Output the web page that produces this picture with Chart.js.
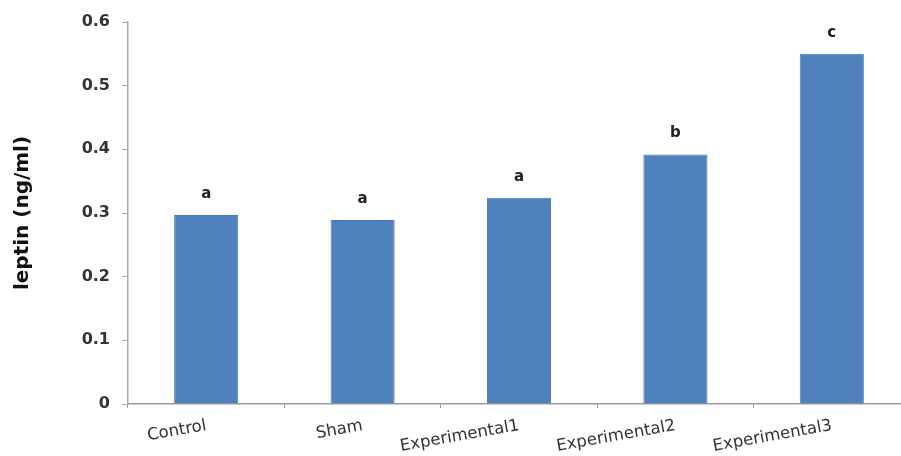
<!DOCTYPE html>
<html lang="en">
<head>
  <meta charset="UTF-8">
  <title>Leptin levels</title>
  <script src="https://cdn.jsdelivr.net/npm/chart.js"></script>
  <style>
    html, body {
      margin: 0;
      padding: 0;
      background: #fff;
      overflow: hidden;
    }
    #wrap {
      width: 920px;
      height: 456px;
    }
  </style>
</head>
<body>
  <div id="wrap">
    <canvas id="leptinChart" width="920" height="456"></canvas>
  </div>

  <script>
    const groups = ['Control', 'Sham', 'Experimental1', 'Experimental2', 'Experimental3'];
    const leptin = [0.297, 0.289, 0.324, 0.392, 0.550];
    const letters = ['a', 'a', 'a', 'b', 'c'];
    const yTicks = [0, 0.1, 0.2, 0.3, 0.4, 0.5, 0.6];

    // draws the significance letters above each bar
    const letterPlugin = {
      id: 'letters',
      afterDatasetsDraw(chart) {
        const ctx = chart.ctx;
        const meta = chart.getDatasetMeta(0);
        ctx.save();
        ctx.font = 'bold 15px "DejaVu Sans"';
        ctx.fillStyle = '#222';
        ctx.textAlign = 'center';
        ctx.textBaseline = 'middle';
        meta.data.forEach((bar, i) => {
          ctx.fillText(letters[i], bar.x, bar.y - 21);
        });
        ctx.restore();
      }
    };

    const ctx = document.getElementById('leptinChart').getContext('2d');
    new Chart(ctx, {
      type: 'bar',
      data: {
        labels: groups,
        datasets: [{
          data: leptin,
          backgroundColor: '#4F81BD',
          borderColor: '#4A7AB5',
          borderWidth: 1,
          barPercentage: 0.41,
          categoryPercentage: 1
        }]
      },
      options: {
        responsive: false,
        animation: false,
        layout: { padding: { top: 22, right: 10, left: 0, bottom: 0 } },
        plugins: {
          legend: { display: false },
          tooltip: { enabled: false }
        },
        scales: {
          x: {
            afterFit: (scale) => { scale.height = 52; },
            border: { color: '#999', width: 1.5 },
            grid: { display: true, drawOnChartArea: false, drawTicks: true, tickLength: 4, color: '#999', offset: true },
            ticks: {
              minRotation: 10,
              maxRotation: 10,
              padding: 8,
              color: '#333',
              font: { family: '"DejaVu Sans"', size: 16.5 }
            }
          },
          y: {
            min: 0,
            max: 0.6,
            afterFit: (scale) => { scale.width = 128; },
            afterBuildTicks: (scale) => { scale.ticks = yTicks.map(v => ({ value: v })); },
            border: { color: '#aaa', width: 1.5 },
            grid: { display: true, drawOnChartArea: false, drawTicks: true, tickLength: 6, color: '#aaa' },
            ticks: {
              padding: 12,
              color: '#333',
              font: { family: '"DejaVu Sans"', size: 16, weight: 'bold' },
              callback: (v) => String(Math.round(v * 10) / 10)
            },
            title: {
              display: true,
              text: 'leptin (ng/ml)',
              color: '#111',
              padding: { top: 11, bottom: 0 },
              font: { family: '"DejaVu Sans"', size: 20, weight: 'bold' }
            }
          }
        }
      },
      plugins: [letterPlugin]
    });
  </script>
</body>
</html>
